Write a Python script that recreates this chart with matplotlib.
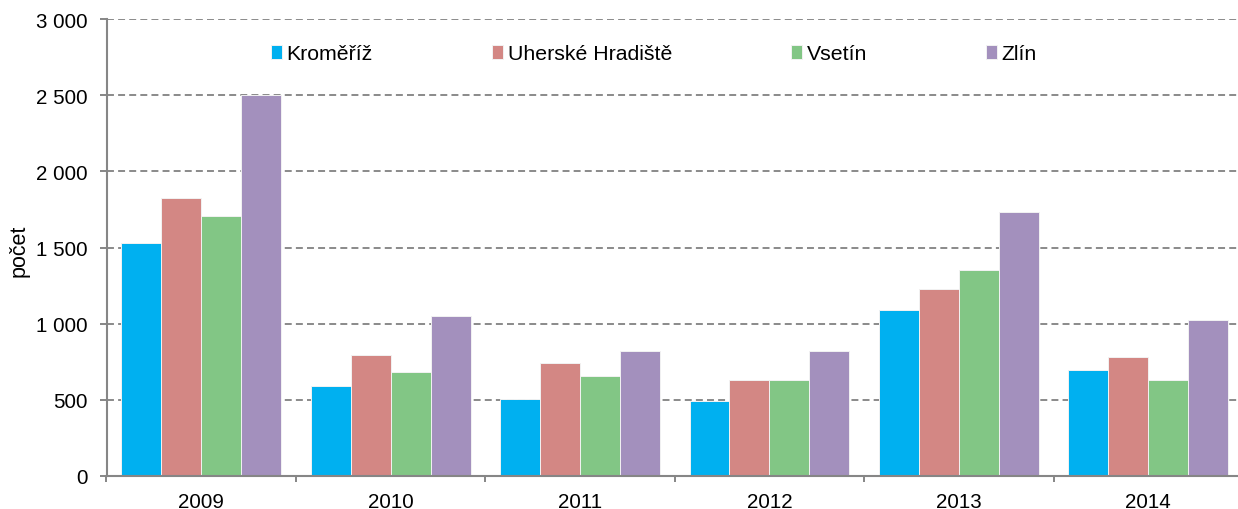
import matplotlib
matplotlib.use("Agg")
import matplotlib.pyplot as plt
import numpy as np
from matplotlib.ticker import FuncFormatter, FixedLocator

# data
years = ["2009", "2010", "2011", "2012", "2013", "2014"]
districts = ["Kroměříž", "Uherské Hradiště", "Vsetín", "Zlín"]
kromeriz = [1532, 592, 502, 491, 1087, 693]
uherske_hradiste = [1823, 793, 743, 629, 1227, 780]
vsetin = [1709, 680, 655, 629, 1352, 629]
zlin = [2500, 1050, 818, 818, 1735, 1023]

# plot parameters
tickFont = 14.8
legendFont = 15.3
labelFont = 15.5
colors = ["#00B0F0", "#D38784", "#82C685", "#A390BD"]
axisGray = "#868686"
barWidth = 0.211

plt.rcParams["font.family"] = ["Liberation Sans", "DejaVu Sans"]
plt.rcParams["lines.scale_dashes"] = False

fig = plt.figure(figsize=(12.38, 5.10), dpi=100)
fig.set_facecolor("white")
ax = fig.add_axes([106.5 / 1238, 33.3 / 510, 1136.5 / 1238, 456.4 / 510])

x = np.arange(len(years))
series = [kromeriz, uherske_hradiste, vsetin, zlin]
for i, values in enumerate(series):
    offset = (i - 1.5) * barWidth
    ax.bar(x + offset, values, barWidth, color=colors[i], label=districts[i],
           edgecolor="#f2f2f2", linewidth=0.7, zorder=3)

ax.set_xlim(-0.5, len(years) - 0.5)
ax.set_ylim(0, 3000)
ax.set_yticks(np.arange(0, 3001, 500))
ax.yaxis.set_major_formatter(FuncFormatter(lambda v, p: "{:,}".format(int(v)).replace(",", "\u00a0")))

# year labels in the middle, tick marks on the boundaries
ax.set_xticks(x)
ax.set_xticklabels(years)
ax.xaxis.set_minor_locator(FixedLocator(np.arange(-0.5, len(years), 1.0)))
ax.tick_params(axis="x", which="major", length=0, pad=11.5, labelsize=tickFont)
ax.tick_params(axis="x", which="minor", length=4.3, width=1.4, color=axisGray)
ax.tick_params(axis="y", length=5, width=1.4, color=axisGray, pad=8.3, labelsize=tickFont)

ax.grid(axis="y", color="#8a8a8a", linestyle=(0, (5, 3)), linewidth=1.4, zorder=0)
ax.set_axisbelow(True)
for side in ["top", "right"]:
    ax.spines[side].set_visible(False)
for side in ["left", "bottom"]:
    ax.spines[side].set_color(axisGray)
    ax.spines[side].set_linewidth(1.5)
    ax.spines[side].set_zorder(4)

fig.text(19 / 1238, 1 - 251 / 510, "počet", rotation=90, ha="center", va="center", fontsize=labelFont)

ax.legend(loc="center left", bbox_to_anchor=(0.1447, 0.924), ncol=4, frameon=False,
          fontsize=legendFont, handlelength=0.52, handleheight=0.62, handletextpad=0.22,
          columnspacing=5.6, borderpad=0, borderaxespad=0)

fig.savefig("out.png", dpi=100)
